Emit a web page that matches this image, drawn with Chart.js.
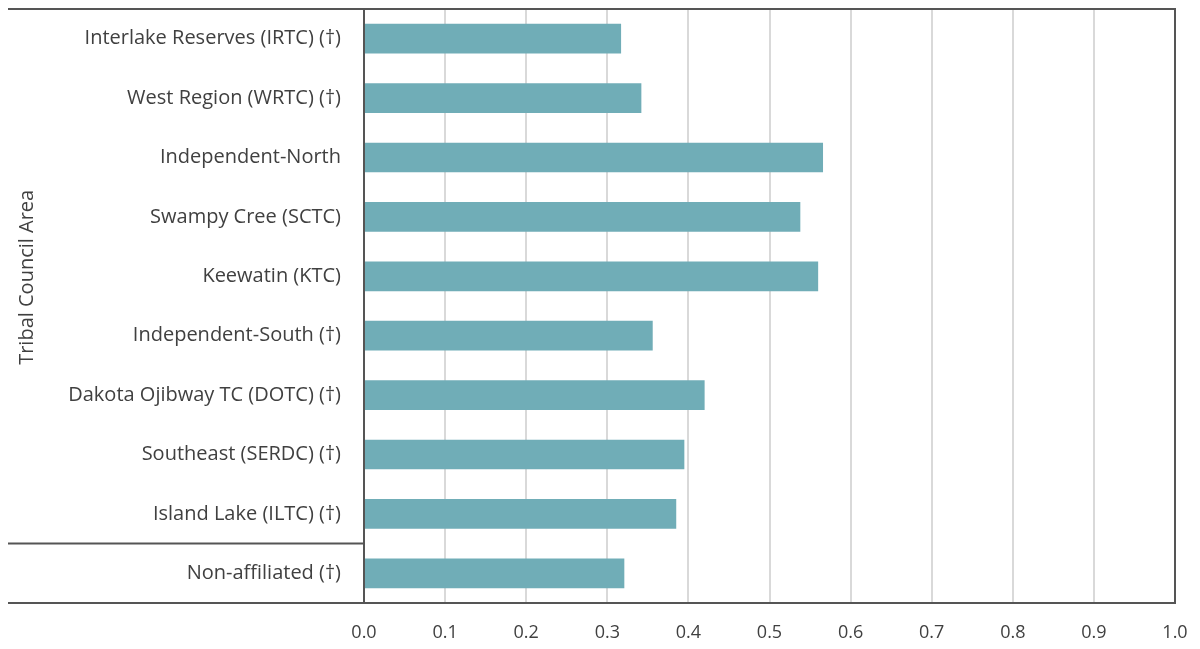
<!DOCTYPE html>
<html>
<head>
<meta charset="utf-8">
<script src="https://cdn.jsdelivr.net/npm/chart.js@4"></script>
<style>
  html, body { margin: 0; padding: 0; background: #fff; }
  #wrap { width: 1200px; height: 649px; }
</style>
</head>
<body>
<div id="wrap"><canvas id="barChart" width="1200" height="649"></canvas></div>
<script>
const categories = [
  'Interlake Reserves (IRTC) (\u2020)',
  'West Region (WRTC) (\u2020)',
  'Independent-North',
  'Swampy Cree (SCTC)',
  'Keewatin (KTC)',
  'Independent-South (\u2020)',
  'Dakota Ojibway TC (DOTC) (\u2020)',
  'Southeast (SERDC) (\u2020)',
  'Island Lake (ILTC) (\u2020)',
  'Non-affiliated (\u2020)'
];
const values = [0.317, 0.342, 0.566, 0.538, 0.560, 0.356, 0.420, 0.395, 0.385, 0.321];
const xTicks = [0, 0.1, 0.2, 0.3, 0.4, 0.5, 0.6, 0.7, 0.8, 0.9, 1.0];
const axisTitle = 'Tribal Council Area';

const FONT = "'Open Sans', 'Noto Sans', sans-serif";
const TEXT = '#404040';
const DARK = '#555555';

function noPad(scale) {
  scale.paddingTop = 0;
  scale.paddingBottom = 0;
  scale.paddingLeft = 0;
  scale.paddingRight = 0;
}

// frame lines, the separator above "Non-affiliated" and the rotated axis title
const framePlugin = {
  id: 'frame',
  afterDraw(chart) {
    const { ctx, chartArea: a, scales } = chart;
    const y = scales.y;
    const sep = (y.getPixelForTick(8) + y.getPixelForTick(9)) / 2;
    ctx.save();
    ctx.strokeStyle = DARK;
    ctx.lineWidth = 2;
    ctx.beginPath();
    ctx.moveTo(8, a.top); ctx.lineTo(a.right, a.top); ctx.lineTo(a.right, a.bottom); ctx.lineTo(8, a.bottom);
    ctx.moveTo(a.left, a.top); ctx.lineTo(a.left, a.bottom);
    ctx.moveTo(8, sep); ctx.lineTo(a.left, sep);
    ctx.stroke();

    ctx.fillStyle = TEXT;
    ctx.font = '20px ' + FONT;
    ctx.textAlign = 'center';
    ctx.textBaseline = 'middle';
    ctx.translate(27, (y.getPixelForTick(0) + y.getPixelForTick(8)) / 2 + 1);
    ctx.rotate(-Math.PI / 2);
    ctx.fillText(axisTitle, 0, 0);
    ctx.restore();
  }
};

new Chart(document.getElementById('barChart').getContext('2d'), {
  type: 'bar',
  data: {
    labels: categories,
    datasets: [{
      data: values,
      backgroundColor: '#70adb7',
      borderWidth: 0,
      categoryPercentage: 1,
      barPercentage: 0.5
    }]
  },
  options: {
    indexAxis: 'y',
    responsive: false,
    animation: false,
    layout: { padding: { top: 9, right: 25, left: 0, bottom: 0 } },
    plugins: { legend: { display: false }, tooltip: { enabled: false } },
    scales: {
      x: {
        min: 0,
        max: 1,
        afterBuildTicks(scale) { scale.ticks = xTicks.map(v => ({ value: v })); },
        afterFit(scale) { scale.height = 46; noPad(scale); },
        grid: { color: '#d9d9d9', lineWidth: 2, drawTicks: false },
        border: { display: false },
        ticks: {
          padding: 19,
          color: TEXT,
          font: { family: FONT, size: 18 },
          callback: v => v.toFixed(1)
        }
      },
      y: {
        afterFit(scale) { scale.width = 364; noPad(scale); },
        grid: { display: false, drawTicks: false },
        border: { display: false },
        ticks: {
          padding: 23,
          color: TEXT,
          font: { family: FONT, size: 20 }
        }
      }
    }
  },
  plugins: [framePlugin]
});
</script>
</body>
</html>
